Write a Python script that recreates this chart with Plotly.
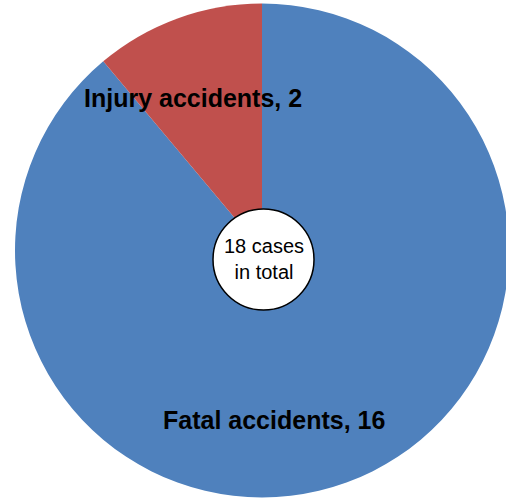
import plotly.graph_objects as go

# Data
categories = ["Fatal accidents", "Injury accidents"]
values = [16, 2]
total_label = "18 cases<br>in total"
colors = ["#4F81BD", "#C0504D"]

W, H = 520, 499  # figure slightly wider than window so the pie can run off the right edge
FONT = "Arial, 'Liberation Sans', sans-serif"

pcx, pcy, pr = 262, 250.5, 247
fig = go.Figure()
fig.add_trace(go.Pie(
    labels=categories,
    values=values,
    sort=False,
    direction="clockwise",
    rotation=0,
    marker=dict(colors=colors, line=dict(width=0)),
    textinfo="none",
    hoverinfo="label+value",
    showlegend=False,
    domain=dict(x=[(pcx - pr) / W, (pcx + pr) / W],
                y=[1 - (pcy + pr) / H, 1 - (pcy - pr) / H]),
))

# centre circle
cx, cy, r = 263.5, 259.5, 50.5
fig.add_shape(type="circle", xref="paper", yref="paper",
              x0=(cx - r) / W, x1=(cx + r) / W,
              y0=1 - (cy + r) / H, y1=1 - (cy - r) / H,
              fillcolor="white", line=dict(color="black", width=1.5))

label_pos = {"Injury accidents": (193, 98), "Fatal accidents": (274, 420)}
for cat, val in zip(categories, values):
    px, py = label_pos[cat]
    fig.add_annotation(x=px / W, y=1 - py / H, xref="paper", yref="paper",
                       text=f"<b>{cat}, {val}</b>", showarrow=False,
                       xanchor="center", yanchor="middle",
                       font=dict(family=FONT, size=25, color="black"))

fig.add_annotation(x=264 / W, y=1 - 259 / H, xref="paper", yref="paper",
                   text=total_label, showarrow=False,
                   xanchor="center", yanchor="middle",
                   font=dict(family=FONT, size=20, color="black"))

fig.update_layout(width=W, height=H, margin=dict(l=0, r=0, t=0, b=0),
                  paper_bgcolor="white", plot_bgcolor="white")

fig.write_html("out.html",
               config={"displayModeBar": False},
               post_script="document.body.style.margin='0';document.body.style.overflow='hidden';")
